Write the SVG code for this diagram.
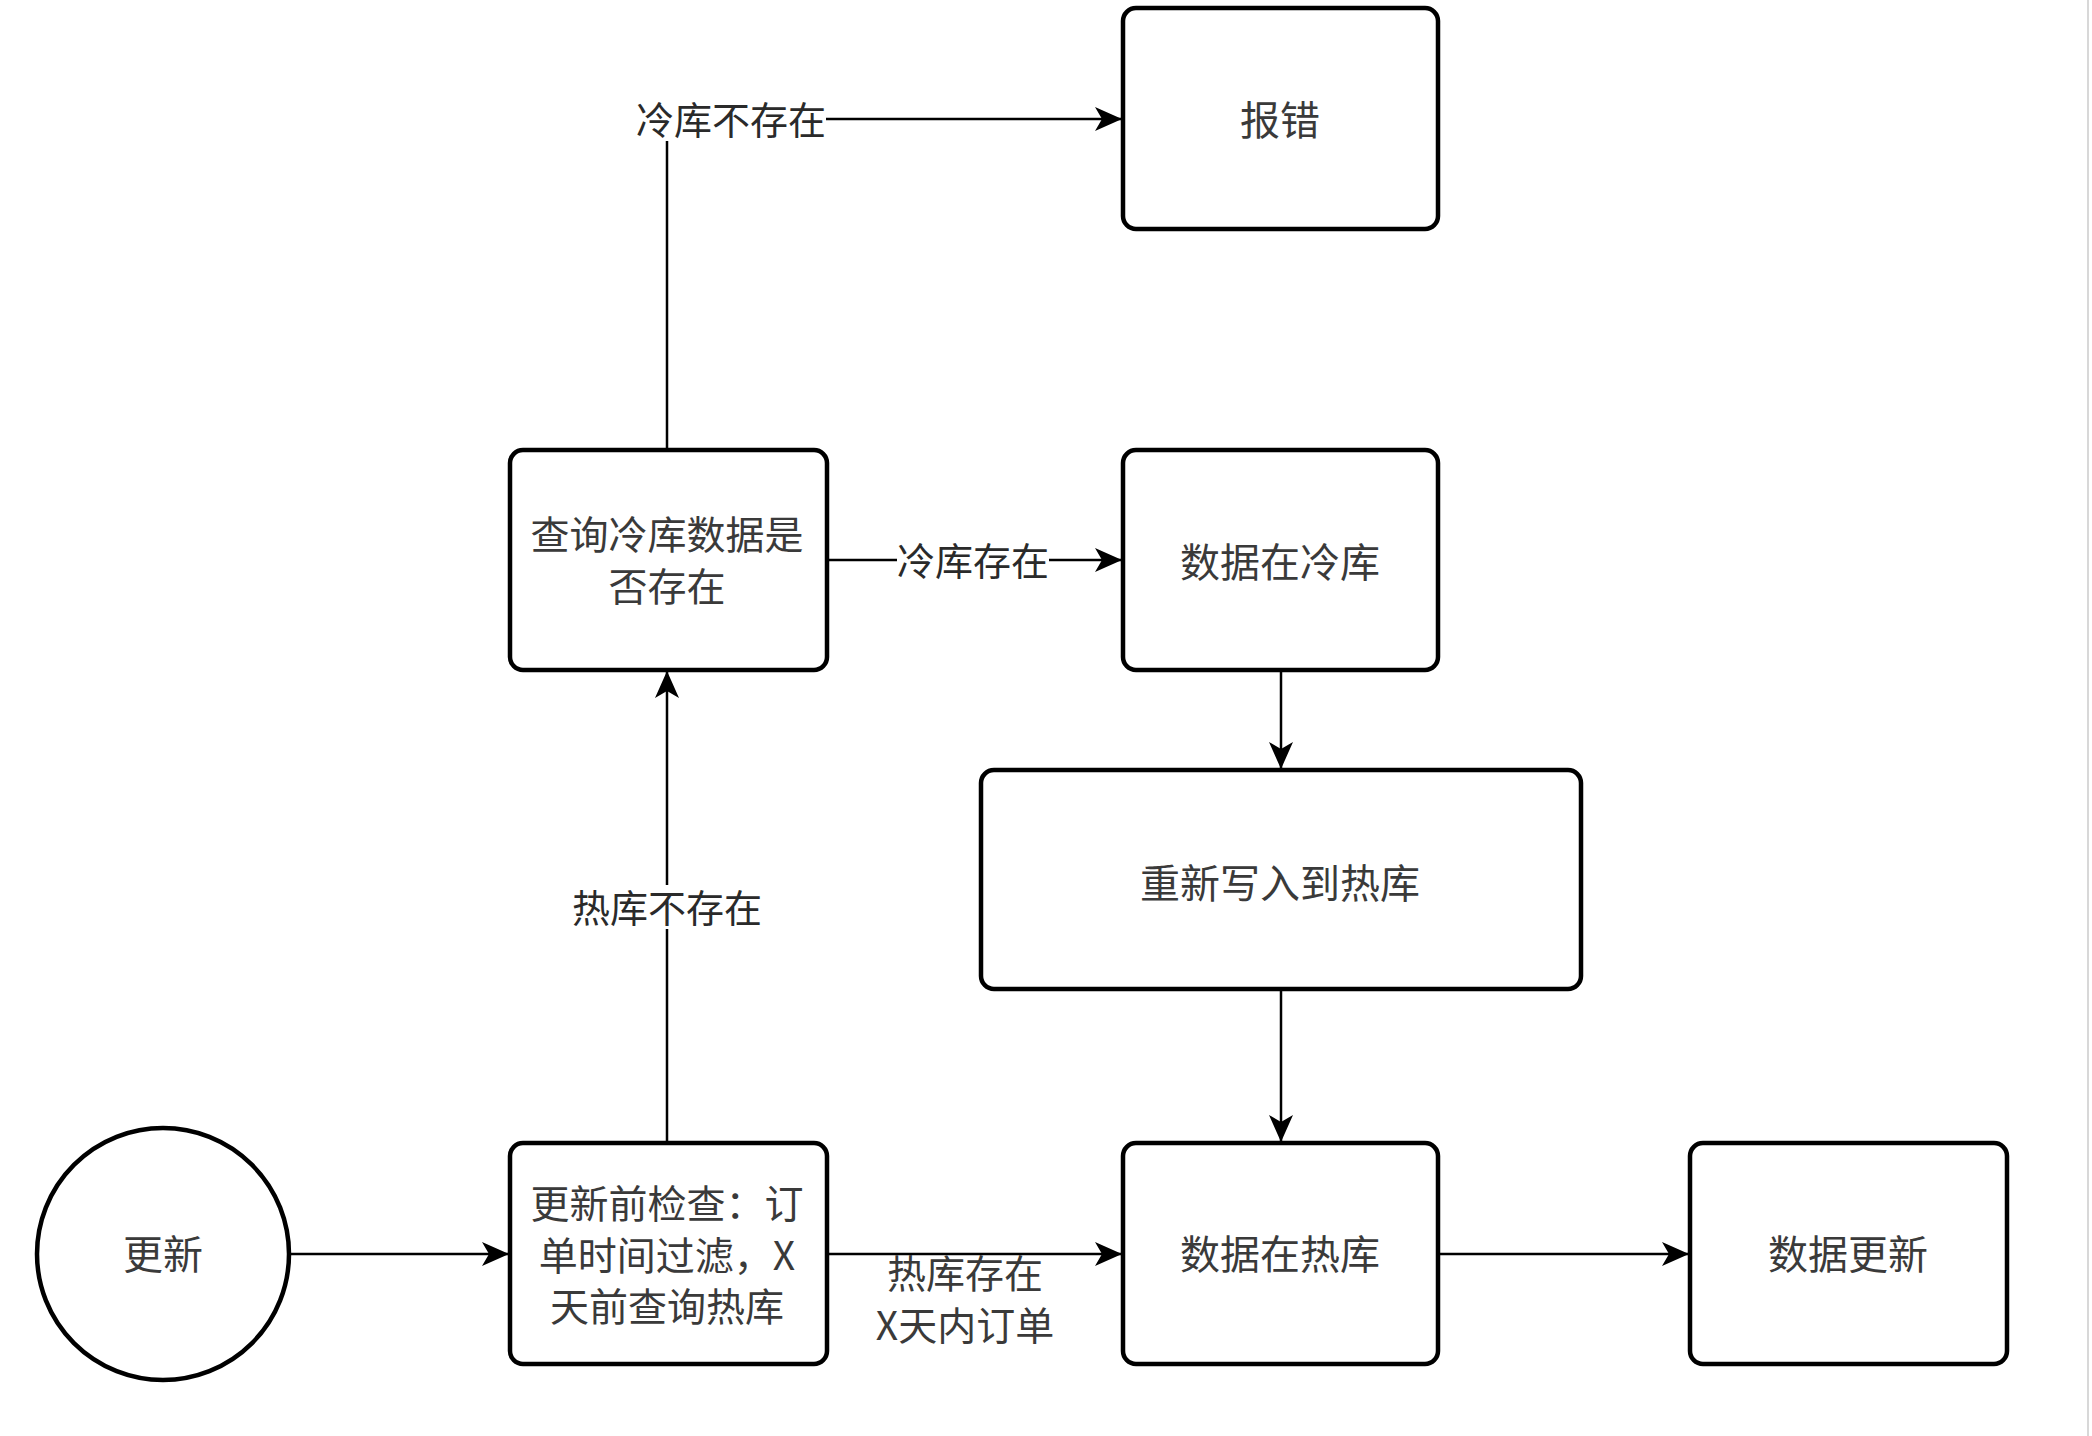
<svg xmlns="http://www.w3.org/2000/svg" width="2092" height="1436" viewBox="0 0 2092 1436">
<style>
.node{fill:#fff;stroke:#000;stroke-width:4.5}
.t{font-family:"Noto Sans CJK SC","Noto Sans",sans-serif;font-size:40px;fill:#3a3a3a;text-anchor:middle;dominant-baseline:central}
.tm{font-family:"Noto Sans CJK SC","Noto Sans",sans-serif;font-size:39px;fill:#3a3a3a;text-anchor:middle}
.lt{font-family:"Noto Sans CJK SC","Noto Sans",sans-serif;font-size:38px;fill:#2a2a2a;text-anchor:middle;dominant-baseline:central}
.edge{fill:none;stroke:#000;stroke-width:2.5}
.lbg{fill:#fff}
</style>
<defs>
<marker id="arr" markerUnits="userSpaceOnUse" markerWidth="28" markerHeight="26" refX="26" refY="13" orient="auto" viewBox="0 0 28 26">
<path d="M0,1 L27,13 L0,25 L7,13 Z" fill="#000"/>
</marker>
</defs>
<rect width="2092" height="1436" fill="#fff"/>
<line x1="2088" y1="0" x2="2088" y2="1436" stroke="#d8d8d8" stroke-width="2"/>
<g id="connectors">
<line class="edge" x1="290" y1="1254" x2="508" y2="1254" marker-end="url(#arr)"/>
<line class="edge" x1="667" y1="1143" x2="667" y2="672" marker-end="url(#arr)"/>
<line class="edge" x1="827" y1="560" x2="1121" y2="560" marker-end="url(#arr)"/>
<polyline class="edge" points="667,450 667,119 1121,119" marker-end="url(#arr)"/>
<line class="edge" x1="1281" y1="670" x2="1281" y2="768" marker-end="url(#arr)"/>
<line class="edge" x1="1281" y1="989" x2="1281" y2="1141" marker-end="url(#arr)"/>
<line class="edge" x1="827" y1="1254" x2="1121" y2="1254" marker-end="url(#arr)"/>
<line class="edge" x1="1438" y1="1254" x2="1688" y2="1254" marker-end="url(#arr)"/>
<rect class="lbg" x="636" y="97" width="190" height="44"/>
<text class="lt" x="731" y="117">冷库不存在</text>
<rect class="lbg" x="897" y="538" width="152" height="44"/>
<text class="lt" x="973" y="558">冷库存在</text>
<rect class="lbg" x="572" y="885" width="190" height="44"/>
<text class="lt" x="667" y="905">热库不存在</text>
<text class="tm" x="965" y="1288">热库存在<tspan x="965" dy="52">X天内订单</tspan></text>
</g>
<g id="n-start">
<circle class="node" cx="163" cy="1254" r="126"/>
<text class="t" x="163" y="1252">更新</text>
</g>
<g id="n-check">
<rect class="node" x="510" y="1143" width="317" height="221" rx="13"/>
<text class="tm" x="667" y="1218">更新前检查：订<tspan x="667" dy="52">单时间过滤，X</tspan><tspan x="667" dy="51">天前查询热库</tspan></text>
</g>
<g id="n-query-cold">
<rect class="node" x="510" y="450" width="317" height="220" rx="13"/>
<text class="tm" x="667" y="549">查询冷库数据是<tspan x="667" dy="52">否存在</tspan></text>
</g>
<g id="n-error">
<rect class="node" x="1123" y="8" width="315" height="221" rx="13"/>
<text class="t" x="1280" y="118">报错</text>
</g>
<g id="n-cold">
<rect class="node" x="1123" y="450" width="315" height="220" rx="13"/>
<text class="t" x="1280" y="560">数据在冷库</text>
</g>
<g id="n-rewrite">
<rect class="node" x="981" y="770" width="600" height="219" rx="13"/>
<text class="t" x="1280" y="881">重新写入到热库</text>
</g>
<g id="n-hot">
<rect class="node" x="1123" y="1143" width="315" height="221" rx="13"/>
<text class="t" x="1280" y="1252">数据在热库</text>
</g>
<g id="n-update">
<rect class="node" x="1690" y="1143" width="317" height="221" rx="13"/>
<text class="t" x="1848" y="1252">数据更新</text>
</g>
</svg>
